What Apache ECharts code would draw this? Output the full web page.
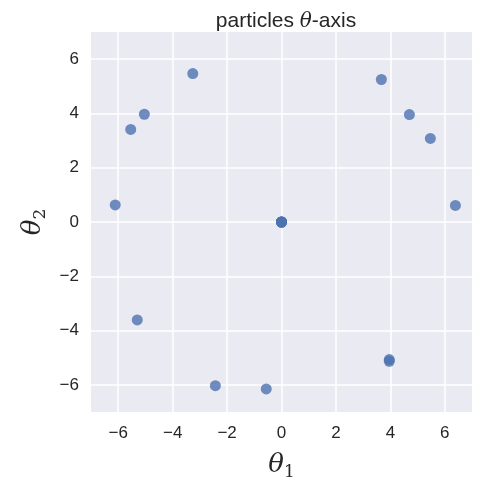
<!DOCTYPE html>
<html><head><meta charset="utf-8">
<script src="https://cdn.jsdelivr.net/npm/echarts@6/dist/echarts.min.js"></script>
<style>html,body{margin:0;padding:0;background:#fff}#c{width:500px;height:500px}</style>
</head><body><div id="c"></div>
<script>
const theta1 = [-3.26, -5.04, -5.54, -6.11, -5.30, -2.43, -0.56, 3.96, 3.96, 3.67, 4.70, 5.47, 6.39, 0, 0, 0, 0, 0];
const theta2 = [5.47, 3.97, 3.41, 0.63, -3.61, -6.03, -6.15, -5.07, -5.13, 5.25, 3.96, 3.08, 0.61, 0, 0, 0, 0, 0];
const ticks = [-6, -4, -2, 0, 2, 4, 6];
const data = theta1.map((x, i) => [x, theta2[i]]);
const chart = echarts.init(document.getElementById('c'));
const nameRich = {
  t: {fontFamily: 'DejaVu Serif', fontStyle: 'italic', fontWeight: 'normal', fontSize: 26, color: '#262626'},
  s: {fontFamily: 'DejaVu Serif', fontWeight: 'normal', fontSize: 17, color: '#262626', padding: [14, 0, 0, 0]}
};
const axisCommon = {
  type: 'value', min: -7, max: 7, interval: 1,
  axisLine: {show: false},
  axisTick: {show: false, customValues: ticks},
  splitLine: {show: true, lineStyle: {color: '#ffffff', width: 1.5}},
  axisLabel: {
    customValues: ticks,
    fontFamily: 'Liberation Sans', fontSize: 17, color: '#262626',
    formatter: v => (v < 0 ? '\u2212' + Math.abs(v) : String(v))
  }
};
chart.setOption({
  backgroundColor: '#ffffff',
  title: {text: '{a|particles }{b|\u03b8}{a|-axis}', left: 281, top: 6, textAlign: 'center',
    textStyle: {fontWeight: 'normal', rich: {
      a: {fontFamily: 'Liberation Sans', fontWeight: 'normal', fontSize: 21, color: '#262626'},
      b: {fontFamily: 'DejaVu Serif', fontStyle: 'italic', fontWeight: 'normal', fontSize: 20, color: '#262626'}
    }}},
  grid: {left: 91, right: 28, top: 32, bottom: 88, show: true, backgroundColor: '#EAEAF2', borderWidth: 0},
  xAxis: Object.assign({}, axisCommon, {
    axisLabel: Object.assign({}, axisCommon.axisLabel, {margin: 13}),
    name: '{t|\u03b8}{s|1}', nameLocation: 'middle', nameGap: 38,
    nameTextStyle: {rich: nameRich}
  }),
  yAxis: Object.assign({}, axisCommon, {
    axisLabel: Object.assign({}, axisCommon.axisLabel, {margin: 12}),
    name: '{t|\u03b8}{s|2}', nameLocation: 'middle', nameGap: 40, nameRotate: 90,
    nameTextStyle: {rich: nameRich}
  }),
  series: [{
    type: 'scatter', data: data, symbolSize: 11,
    itemStyle: {color: '#4C72B0', opacity: 0.8}
  }]
});
</script></body></html>
